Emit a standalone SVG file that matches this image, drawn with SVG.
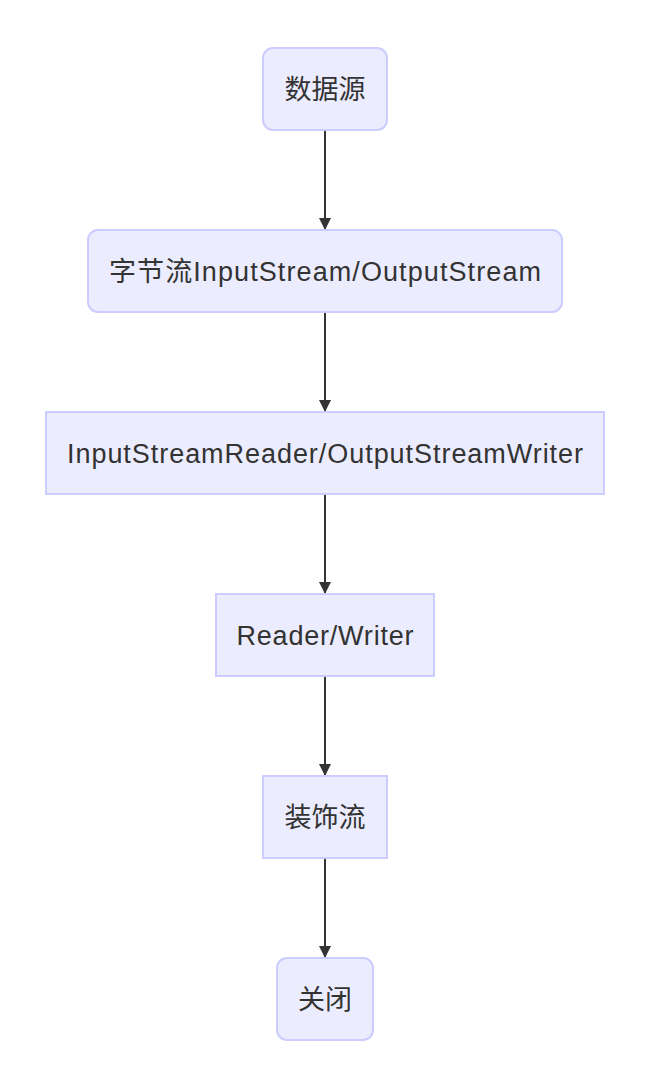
<svg xmlns="http://www.w3.org/2000/svg" width="670" height="1072" viewBox="0 0 670 1072">
<style>
.n{fill:#ECECFF;stroke:#CCCCFF;stroke-width:2}
.t{font-family:"Liberation Sans","Noto Sans CJK SC",sans-serif;font-size:27px;fill:#333;text-anchor:middle;dominant-baseline:central}
.e{stroke:#333;stroke-width:2;fill:none;marker-end:url(#arr)}
</style>
<defs>
<marker id="arr" viewBox="0 0 10 10" refX="10" refY="5" markerWidth="6" markerHeight="6" markerUnits="strokeWidth" orient="auto">
<path d="M0,0L10,5L0,10z" fill="#333"/>
</marker>
</defs>
<rect width="670" height="1072" fill="#fff"/>
<g id="edges">
<line class="e" x1="325" y1="130" x2="325" y2="230"/>
<line class="e" x1="325" y1="312" x2="325" y2="412"/>
<line class="e" x1="325" y1="494" x2="325" y2="594"/>
<line class="e" x1="325" y1="676" x2="325" y2="776"/>
<line class="e" x1="325" y1="858" x2="325" y2="958"/>
</g>
<g id="n1"><rect class="n" x="263" y="48" width="124" height="82" rx="10"/><text class="t" x="325" y="90">数据源</text></g>
<g id="n2"><rect class="n" x="88" y="230" width="474" height="82" rx="10"/><text class="t" x="325" y="272" textLength="432" lengthAdjust="spacing">字节流InputStream/OutputStream</text></g>
<g id="n3"><rect class="n" x="46" y="412" width="558" height="82"/><text class="t" x="325" y="454" textLength="516" lengthAdjust="spacing">InputStreamReader/OutputStreamWriter</text></g>
<g id="n4"><rect class="n" x="216" y="594" width="218" height="82"/><text class="t" x="325" y="636" textLength="177" lengthAdjust="spacing">Reader/Writer</text></g>
<g id="n5"><rect class="n" x="263" y="776" width="124" height="82"/><text class="t" x="325" y="818">装饰流</text></g>
<g id="n6"><rect class="n" x="277" y="958" width="96" height="82" rx="10"/><text class="t" x="325" y="1000">关闭</text></g>
</svg>
